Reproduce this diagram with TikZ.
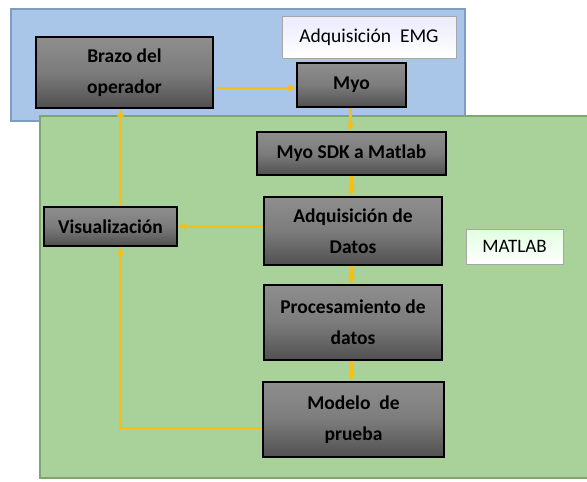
\documentclass[tikz,border=0pt]{standalone}
\usepackage{fontspec}
\setmainfont{Carlito}
\usetikzlibrary{arrows.meta,calc}
\definecolor{bluepanel}{HTML}{A9C6E8}
\definecolor{blueedge}{HTML}{7E9CC4}
\definecolor{greenpanel}{HTML}{A9D29A}
\definecolor{greenedge}{HTML}{7FA66E}
\definecolor{gold}{HTML}{F8BE14}
\definecolor{boxtop}{HTML}{8E8E8E}
\definecolor{boxmid}{HTML}{7C7C7C}
\definecolor{boxbot}{HTML}{505050}
\tikzset{
  panel/.style={line width=2.5pt},
  procbox/.style={draw=black, line width=1.4pt, top color=boxtop, bottom color=boxbot, middle color=boxmid,
    minimum width=#1, align=center, font=\fontsize{19.5}{31}\selectfont\bfseries, text=black, inner sep=0pt},
  labelbox/.style={draw=gray!70, line width=0.8pt, inner sep=0pt, font=\fontsize{19.5}{20}\selectfont},
  flow/.style={draw=gold, line width=2.6pt, -{Latex[length=8pt,width=8pt]}}
}
\begin{document}
\begin{tikzpicture}[x=1pt,y=-1pt]
\useasboundingbox (0,0) rectangle (587,482);
% panels
\draw[panel, draw=blueedge, fill=bluepanel] (11,9) rectangle (465,121);
\draw[panel, draw=greenedge, fill=greenpanel] (40,116) rectangle (590,478);
% label boxes
\node[labelbox, top color=blue!8, bottom color=white, minimum width=174pt, minimum height=42pt] (emg) at (369,37) {Adquisición\ \ EMG};
\node[labelbox, top color=green!12, bottom color=white, minimum width=97pt, minimum height=35pt, font=\fontsize{19}{20}\selectfont] (matlab) at (514.5,246.5) {MATLAB};
% process boxes
\node[procbox=177pt, minimum height=71pt] (brazo) at (124.5,72.5) {Brazo del\\operador};
\node[procbox=109pt, minimum height=44pt] (myo) at (351.5,85) {Myo};
\node[procbox=189pt, minimum height=43pt] (sdk) at (351.5,153.5) {Myo SDK a Matlab};
\node[procbox=178pt, minimum height=68pt] (adq) at (353,231) {Adquisición de\\Datos};
\node[procbox=178pt, minimum height=75pt] (proc) at (353,322.5) {Procesamiento de\\datos};
\node[procbox=181pt, minimum height=75pt] (mod) at (353.5,419.5) {Modelo\ \ de\\prueba};
\node[procbox=133pt, minimum height=39pt] (vis) at (110.5,226.5) {Visualización};
% connectors
\coordinate (b1) at ([yshift=-15.5pt]brazo.east);
\draw[flow, shorten <=4pt] (b1) -- (myo.west |- b1);
\coordinate (m1) at ([xshift=-1pt]myo.south);
\draw[flow] (m1) -- (m1 |- sdk.north);
\draw[flow] (sdk.south) -- (sdk.south |- adq.north);
\draw[flow] (adq.south -| sdk.south) -- (sdk.south |- proc.north);
\draw[flow] (proc.south -| sdk.south) -- (sdk.south |- mod.north);
\draw[flow] (adq.west |- vis.east) -- (vis.east);
\coordinate (v1) at ([xshift=10pt]vis.south);
\coordinate (md) at ([yshift=-8.5pt]mod.west);
\draw[flow] (md) -| (v1);
\coordinate (v2) at ([xshift=10pt]vis.north);
\draw[flow] (v2) -- (v2 |- brazo.south);
\end{tikzpicture}
\end{document}
